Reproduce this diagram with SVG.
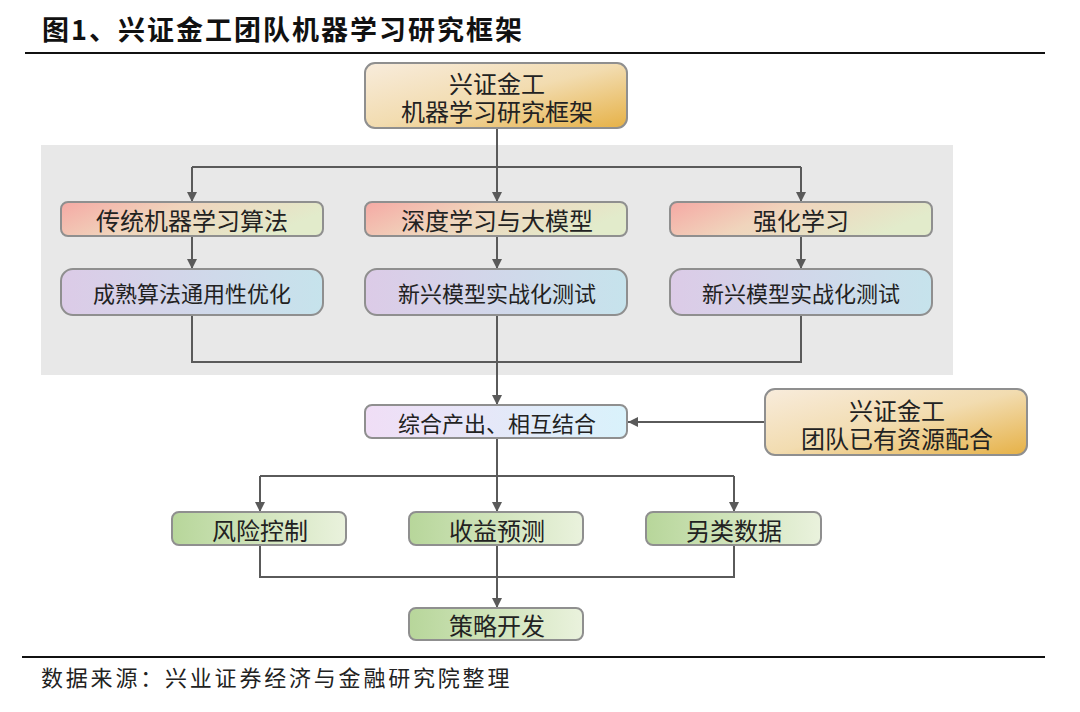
<svg xmlns="http://www.w3.org/2000/svg" width="1080" height="712" viewBox="0 0 1080 712">
<defs>
<linearGradient id="gOrange" x1="0" y1="0" x2="1" y2="1">
<stop offset="0" stop-color="#f8ecdc"/><stop offset="0.5" stop-color="#f2dcb0"/><stop offset="1" stop-color="#e6b146"/>
</linearGradient>
<linearGradient id="gRow1" x1="0" y1="0" x2="1" y2="0.3">
<stop offset="0" stop-color="#f5a9a4"/><stop offset="0.45" stop-color="#f0d4bc"/><stop offset="1" stop-color="#e2ebcb"/>
</linearGradient>
<linearGradient id="gRow2" x1="0" y1="0" x2="1" y2="0">
<stop offset="0" stop-color="#dccbe7"/><stop offset="1" stop-color="#c6e3ec"/>
</linearGradient>
<linearGradient id="gMix" x1="0" y1="0" x2="1" y2="0">
<stop offset="0" stop-color="#f0def6"/><stop offset="1" stop-color="#d9f2fb"/>
</linearGradient>
<linearGradient id="gGreen" x1="0" y1="0" x2="1" y2="0">
<stop offset="0" stop-color="#b7d69a"/><stop offset="1" stop-color="#eaf2dd"/>
</linearGradient>
<marker id="arr" viewBox="0 0 10 10" refX="10" refY="5" markerWidth="5" markerHeight="5" orient="auto" markerUnits="strokeWidth">
<path d="M0,0 L10,5 L0,10 z" fill="#5a5a5a"/>
</marker>
</defs>
<style>
.box{stroke:#8f8f8f;stroke-width:2}
.t{font-family:"Noto Sans CJK SC","Noto Sans",sans-serif;fill:#222;text-anchor:middle;dominant-baseline:central}
.c{fill:none;stroke:#5a5a5a;stroke-width:2}
</style>
<rect width="1080" height="712" fill="#ffffff"/>
<text x="42" y="40" font-family="'Noto Sans CJK SC','Liberation Sans',sans-serif" font-size="27" font-weight="bold" fill="#111" letter-spacing="2">图1、兴证金工团队机器学习研究框架</text>
<line x1="25" y1="53" x2="1045" y2="53" stroke="#111" stroke-width="2"/>
<rect x="41" y="145" width="912" height="230" fill="#e8e8e8"/>

<g id="connectors">
<path class="c" d="M497,128 V167"/>
<path class="c" d="M192,167 H801"/>
<path class="c" d="M192,167 V202" marker-end="url(#arr)"/>
<path class="c" d="M497,167 V202" marker-end="url(#arr)"/>
<path class="c" d="M801,167 V202" marker-end="url(#arr)"/>
<path class="c" d="M192,236 V269" marker-end="url(#arr)"/>
<path class="c" d="M497,236 V269" marker-end="url(#arr)"/>
<path class="c" d="M801,236 V269" marker-end="url(#arr)"/>
<path class="c" d="M192,315 V362 H801 V315"/>
<path class="c" d="M497,315 V405" marker-end="url(#arr)"/>
<path class="c" d="M765,422 H628" marker-end="url(#arr)"/>
<path class="c" d="M497,438 V476"/>
<path class="c" d="M260,476 H734"/>
<path class="c" d="M260,476 V512" marker-end="url(#arr)"/>
<path class="c" d="M497,476 V512" marker-end="url(#arr)"/>
<path class="c" d="M734,476 V512" marker-end="url(#arr)"/>
<path class="c" d="M260,545 V577 H734 V545"/>
<path class="c" d="M497,545 V608" marker-end="url(#arr)"/>
</g>

<g id="top">
<rect class="box" x="365" y="63" width="262" height="65" rx="10" fill="url(#gOrange)"/>
<text class="t" x="497" y="82" font-size="24">兴证金工</text>
<text class="t" x="497" y="110" font-size="24">机器学习研究框架</text>
</g>
<g id="trad">
<rect class="box" x="61" y="202" width="262" height="34" rx="7" fill="url(#gRow1)"/>
<text class="t" x="192" y="219" font-size="24">传统机器学习算法</text>
</g>
<g id="deep">
<rect class="box" x="365" y="202" width="262" height="34" rx="7" fill="url(#gRow1)"/>
<text class="t" x="497" y="219" font-size="24">深度学习与大模型</text>
</g>
<g id="rl">
<rect class="box" x="670" y="202" width="262" height="34" rx="7" fill="url(#gRow1)"/>
<text class="t" x="801" y="219" font-size="24">强化学习</text>
</g>
<g id="mature">
<rect class="box" x="61" y="269" width="262" height="46" rx="12" fill="url(#gRow2)"/>
<text class="t" x="192" y="292" font-size="22">成熟算法通用性优化</text>
</g>
<g id="newdeep">
<rect class="box" x="365" y="269" width="262" height="46" rx="12" fill="url(#gRow2)"/>
<text class="t" x="497" y="292" font-size="22">新兴模型实战化测试</text>
</g>
<g id="newrl">
<rect class="box" x="670" y="269" width="262" height="46" rx="12" fill="url(#gRow2)"/>
<text class="t" x="801" y="292" font-size="22">新兴模型实战化测试</text>
</g>
<g id="mix">
<rect class="box" x="365" y="405" width="262" height="33" rx="7" fill="url(#gMix)"/>
<text class="t" x="497" y="422" font-size="22">综合产出、相互结合</text>
</g>
<g id="resource">
<rect class="box" x="765" y="389" width="262" height="66" rx="10" fill="url(#gOrange)"/>
<text class="t" x="897" y="409" font-size="24">兴证金工</text>
<text class="t" x="897" y="437" font-size="24">团队已有资源配合</text>
</g>
<g id="risk">
<rect class="box" x="172" y="512" width="174" height="33" rx="7" fill="url(#gGreen)"/>
<text class="t" x="260" y="529" font-size="24">风险控制</text>
</g>
<g id="ret">
<rect class="box" x="409" y="512" width="174" height="33" rx="7" fill="url(#gGreen)"/>
<text class="t" x="497" y="529" font-size="24">收益预测</text>
</g>
<g id="alt">
<rect class="box" x="646" y="512" width="175" height="33" rx="7" fill="url(#gGreen)"/>
<text class="t" x="734" y="529" font-size="24">另类数据</text>
</g>
<g id="strategy">
<rect class="box" x="409" y="608" width="174" height="32" rx="7" fill="url(#gGreen)"/>
<text class="t" x="497" y="624" font-size="24">策略开发</text>
</g>

<line x1="22" y1="657" x2="1045" y2="657" stroke="#111" stroke-width="2"/>
<text x="41" y="686" font-family="'Noto Sans CJK SC','Liberation Sans',sans-serif" font-size="22" fill="#222" letter-spacing="2.8">数据来源：兴业证券经济与金融研究院整理</text>
</svg>
